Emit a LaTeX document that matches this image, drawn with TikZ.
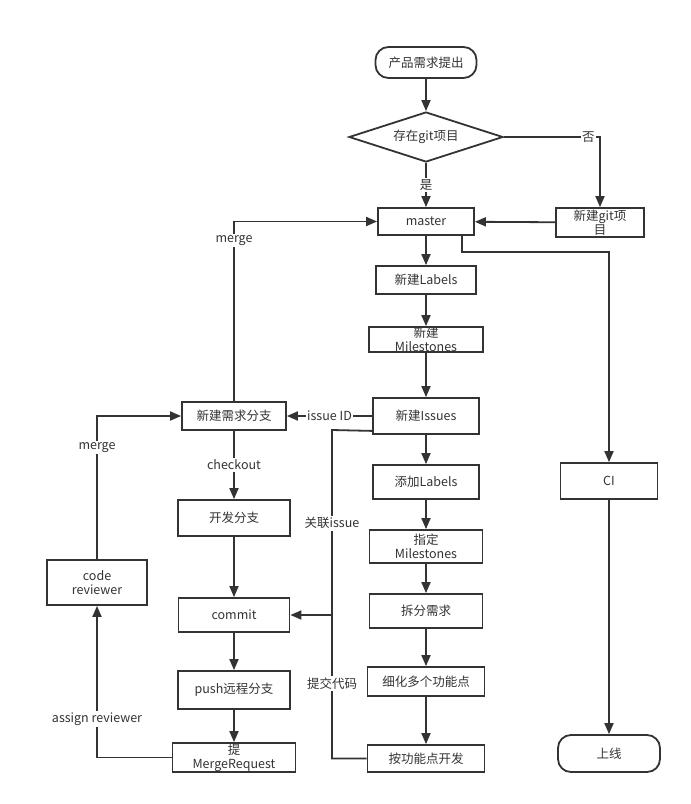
\documentclass[tikz,border=0pt]{standalone}
\usepackage{fontspec}
\setmainfont{Noto Sans CJK SC}
\usepackage{tikz}
\usetikzlibrary{arrows.meta,shapes.geometric,positioning}
\definecolor{trait}{HTML}{333333}

\begin{document}
\begin{tikzpicture}[x=1pt, y=-1pt, color=trait, line width=1.8pt,
  >={Triangle[width=9pt,length=11pt]},
  boite/.style={draw, inner sep=0pt, align=center, font=\fontsize{12.5}{14}\selectfont},
  terminal/.style={boite, rounded corners=13pt},
  etiq/.style={fill=white, inner sep=1.5pt, font=\fontsize{12.5}{14}\selectfont}]
\useasboundingbox (0,0) rectangle (691,804);
% colonne centrale
\node [terminal, minimum width=101, minimum height=31] (noeudstart) at (426,62.5) {产品需求提出};
\node [boite, diamond, aspect=3.08, minimum width=154, minimum height=50] (noeudexist) at (426,137) {存在git项目};
\node [boite, minimum width=96, minimum height=27] (noeudmaster) at (426,221.5) {master};
\node [boite, minimum width=88, minimum height=29] (noeudnewgit) at (600,222.5) {新建git项\\目};
\node [boite, minimum width=100, minimum height=28] (noeudlabels) at (426,280) {新建Labels};
\node [boite, minimum width=114, minimum height=25] (noeudmiles) at (426,339.5) {新建\\Milestones};
\node [boite, minimum width=106, minimum height=36] (noeudissues) at (426,416) {新建Issues};
\node [boite, minimum width=106, minimum height=34] (noeudaddlab) at (426,482) {添加Labels};
\node [boite, minimum width=113, minimum height=33] (noeudsetmile) at (426,546.5) {指定\\Milestones};
\node [boite, minimum width=113, minimum height=34] (noeudsplit) at (426,611) {拆分需求};
\node [boite, minimum width=117, minimum height=29] (noeudrefine) at (426,681.5) {细化多个功能点};
\node [boite, minimum width=117, minimum height=27] (noeuddevfeat) at (426,758.5) {按功能点开发};
% branches
\node [boite, minimum width=104, minimum height=28] (noeudbranch) at (234,416) {新建需求分支};
\node [boite, minimum width=112, minimum height=36] (noeuddevbr) at (234,518) {开发分支};
\node [boite, minimum width=111, minimum height=34] (noeudcommit) at (234,615) {commit};
\node [boite, minimum width=112, minimum height=38] (noeudpush) at (234,690) {push远程分支};
\node [boite, minimum width=123, minimum height=29] (noeudmr) at (234,757.5) {提\\MergeRequest};
\node [boite, minimum width=100, minimum height=45] (noeudreview) at (97,582.5) {code\\reviewer};
% CI
\node [boite, minimum width=97, minimum height=36] (noeudci) at (609,481) {CI};
\node [terminal, minimum width=102, minimum height=37] (noeudonline) at (609,753.5) {上线};
\coordinate (noeudbus) at (332,430);

\draw[->] (noeudstart) -- (noeudexist);
\draw[->] (noeudexist) -- (noeudmaster) node[midway, etiq] {是};
\draw[->] (noeudexist.east) -| (noeudnewgit.north) node[pos=0.44, etiq] {否};
\draw[->] (noeudnewgit) -- (noeudmaster);
\foreach \a/\b in {master/labels, labels/miles, miles/issues, issues/addlab, addlab/setmile,
  setmile/split, split/refine, refine/devfeat, devbr/commit, commit/push, push/mr, ci/online}
  \draw[->] (noeud\a) -- (noeud\b);
\draw[->] ([xshift=-13pt]noeudmaster.south east) -- ++(0,16) -| (noeudci.north);
\draw[->] (noeudissues) -- (noeudbranch) node[midway, etiq] {issue ID};
\draw[->] (noeudbranch.north) |- (noeudmaster.west) node[pos=0.447, etiq] {merge};
\draw[->] (noeudbranch) -- (noeuddevbr) node[midway, etiq] {checkout};
\draw[->] (noeudmr.west) -| (noeudreview.south) node[pos=0.627, etiq] {assign reviewer};
\draw[->] (noeudreview.north) |- (noeudbranch.west) node[pos=0.39, etiq] {merge};
\draw ([yshift=4pt]noeudissues.south west) -- (noeudbus) |- (noeuddevfeat.west)
  node[pos=0.142, etiq] {关联issue} node[pos=0.386, etiq] {提交代码};
\draw[->] (noeudbus |- noeudcommit.east) -- (noeudcommit.east);
\end{tikzpicture}
\end{document}
